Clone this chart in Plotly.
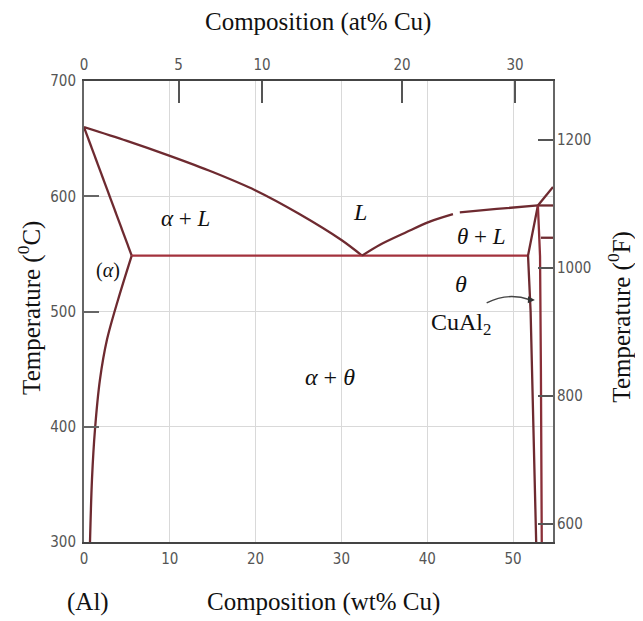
import plotly.graph_objects as go

# ---------------- data ----------------
liq_left_wt = [0, 5, 10, 15, 20, 25, 30, 32.4]
liq_left_T = [660, 648, 635, 621, 605, 585, 562, 548.5]

solidus_wt = [0, 5.56]
solidus_T = [660, 548.5]

solvus_wt = [5.56, 3.96, 2.68, 1.86, 1.28, 0.93, 0.7]
solvus_T = [548.5, 510, 475.6, 440.9, 397.6, 354.3, 300]

eutectic_wt = [5.56, 51.75]
eutectic_T = [548.5, 548.5]

liq_right_wt = [32.4, 34.5, 37.6, 40.3, 43.0, None, 43.8, 48.1, 52.9]
liq_right_T = [548.5, 558, 569, 578, 584.5, None, 586, 589, 592]

liq_upper_wt = [52.9, 54.66]
liq_upper_T = [592, 608]

peritectic_wt = [52.9, 54.66]
peritectic_T = [592, 592]

theta_left_wt = [52.9, 51.75, 52.05, 52.4, 52.7]
theta_left_T = [592, 548.5, 500, 400, 300]

theta_right_wt = [52.9, 53.15, 53.25, 53.35]
theta_right_T = [592, 548, 450, 300]

eta_wt = [53.25, 54.66]
eta_T = [564, 564]

at_ticks = [0, 5, 10, 20, 30]            # top axis, at% Cu
f_ticks = [600, 800, 1000, 1200]          # right axis, deg F
c_ticks = [300, 400, 500, 600, 700]       # left axis, deg C
wt_ticks = [0, 10, 20, 30, 40, 50]        # bottom axis, wt% Cu

X_MAX = 54.66
T_MIN, T_MAX = 300, 700


def at_to_wt(a):
    return 100 * 63.546 * a / (63.546 * a + 26.982 * (100 - a))


at_pos = [at_to_wt(a) for a in at_ticks]

LINE = "#6e2a30"
RED = "#a3323d"
SERIF = "Liberation Serif, Times New Roman, serif"
TICKFONT = dict(family="Liberation Sans Narrow, Arial Narrow, DejaVu Sans Condensed, sans-serif",
                size=15, color="#555")

fig = go.Figure()


def add_line(x, y, color=LINE, width=2.3, shape="linear"):
    fig.add_trace(go.Scatter(x=x, y=y, mode="lines",
                             line=dict(color=color, width=width, shape=shape, smoothing=0.9),
                             hoverinfo="skip", showlegend=False, connectgaps=False))


add_line(liq_left_wt, liq_left_T, shape="spline")
add_line(solidus_wt, solidus_T)
add_line(solvus_wt, solvus_T, shape="spline")
add_line(eutectic_wt, eutectic_T, color=RED)
add_line(liq_right_wt, liq_right_T, shape="spline")
add_line(liq_upper_wt, liq_upper_T)
add_line(peritectic_wt, peritectic_T)
add_line(theta_left_wt, theta_left_T)
add_line(theta_right_wt, theta_right_T, color="#8a2f38")
add_line(eta_wt, eta_T)

# dummy (empty) trace to activate the secondary axes
fig.add_trace(go.Scatter(x=[], y=[], xaxis="x2", yaxis="y2", hoverinfo="skip", showlegend=False))

# phase labels
labels = [
    ("<i>α</i> + <i>L</i>", 11.8, 580.5, 23),
    ("<i>L</i>", 32.2, 586.5, 24),
    ("<i>θ</i> + <i>L</i>", 46.3, 565.5, 23),
    ("<i>θ</i>", 43.9, 524, 24),
    ("CuAl<sub>2</sub>", 43.9, 489.5, 24),
    ("<i>α</i> + <i>θ</i>", 28.7, 443.5, 24),
    ("(<i>α</i>)", 2.75, 535.5, 20),
]
for txt, x, y, s in labels:
    fig.add_annotation(x=x, y=y, xref="x", yref="y", text=txt, showarrow=False,
                       font=dict(family=SERIF, size=s, color="#111"))

# curved pointer from CuAl2 to the theta phase field
fig.add_shape(type="path", xref="x", yref="y",
              path="M 46.93,507.4 Q 49.38,516.85 51.98,510.2",
              line=dict(color="#444", width=1.4))
fig.add_annotation(x=52.55, y=510.0, ax=51.8, ay=510.2, xref="x", yref="y",
                   axref="x", ayref="y", text="", showarrow=True,
                   arrowhead=2, arrowsize=1, arrowwidth=1.4, arrowcolor="#333")

# axis titles
titles = [
    ("Composition (at% Cu)", 0.499, 1.128, 0),
    ("Composition (wt% Cu)", 0.5096, -0.131, 0),
    ("(Al)", 0.0085, -0.131, 0),
    ("Temperature (<sup>0</sup>C)", -0.115, 0.508, -90),
    ("Temperature (<sup>0</sup>F)", 1.143, 0.489, -90),
]
for txt, x, y, ang in titles:
    fig.add_annotation(x=x, y=y, xref="paper", yref="paper", text=txt, showarrow=False,
                       textangle=ang, xanchor="center", yanchor="middle",
                       font=dict(family=SERIF, size=25, color="#111"))

fig.update_layout(
    width=643, height=621,
    margin=dict(l=76, r=98, t=73, b=87),
    paper_bgcolor="white", plot_bgcolor="white",
    showlegend=False,
    xaxis=dict(range=[0, X_MAX], tickvals=wt_ticks, ticks="", showgrid=True,
               gridcolor="#d9d9d9", gridwidth=1, zeroline=False,
               showline=True, linecolor="#444", linewidth=2, mirror=True,
               tickfont=TICKFONT, ticklabelstandoff=2),
    xaxis2=dict(range=[0, X_MAX], overlaying="x", side="top", tickvals=at_pos,
                ticktext=[str(a) for a in at_ticks], ticks="inside", ticklen=22,
                tickwidth=1.5, tickcolor="#555", showgrid=False, zeroline=False,
                showline=False, tickfont=TICKFONT, ticklabelstandoff=7),
    yaxis=dict(range=[T_MIN, T_MAX], tickvals=c_ticks, ticks="inside", ticklen=15,
               tickwidth=1.5, tickcolor="#666", showgrid=True, gridcolor="#d9d9d9",
               zeroline=False, showline=True, linecolor="#666", linewidth=2, mirror=True,
               tickfont=TICKFONT, ticklabelstandoff=3),
    yaxis2=dict(range=[T_MIN * 1.8 + 32, T_MAX * 1.8 + 32], overlaying="y", side="right",
                tickvals=f_ticks, ticks="inside", ticklen=15, tickwidth=1.5,
                tickcolor="#555", showgrid=False, zeroline=False, showline=False,
                tickfont=TICKFONT, ticklabelstandoff=3),
)

fig.write_html("out.html")
